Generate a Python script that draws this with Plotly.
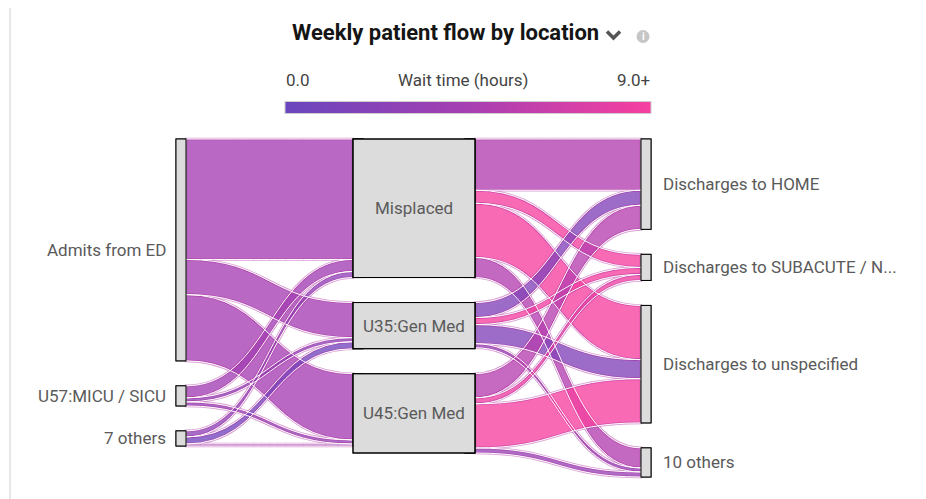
import re
import plotly.graph_objects as go
from plotly.colors import sample_colorscale

# ---------------- data ----------------
title_text = "Weekly patient flow by location"
left_nodes = ["Admits from ED", "U57:MICU / SICU", "7 others"]
mid_nodes = ["Misplaced", "U35:Gen Med", "U45:Gen Med"]
right_nodes = ["Discharges to HOME", "Discharges to SUBACUTE / N...",
               "Discharges to unspecified", "10 others"]

# inflow links: left column -> middle column
in_src = [0, 0, 0, 1, 1, 1, 2, 2, 2]
in_tgt = [0, 1, 2, 0, 1, 2, 0, 1, 2]
in_val = [120, 35, 66, 12, 4, 4, 6, 7, 2]
in_wait = [4.4, 4.4, 4.4, 4.2, 2.6, 3.2, 2.6, 0.6, 3.4]

# outflow links: middle column -> right column
out_src = [0, 0, 0, 0, 1, 1, 1, 1, 2, 2, 2, 2]
out_tgt = [0, 1, 2, 3, 0, 1, 2, 3, 0, 1, 2, 3]
out_val = [51, 13, 54, 20, 15, 7, 19, 4, 24, 6, 44, 5]
out_wait = [5.2, 9.0, 9.0, 5.2, 1.8, 9.0, 1.8, 3.0, 5.4, 8.5, 9.0, 3.4]

wait_title = "Wait time (hours)"
wait_min, wait_max = 0.0, 9.0
wait_tick_labels = ["0.0", "9.0+"]

# ---------------- layout constants (page pixels) ----------------
PAGE_OFF = 8                      # default page margin around the plot div
FIG_W, FIG_H = 926 - PAGE_OFF, 499 - PAGE_OFF
TOP, BOTTOM = 139, 477
PAD = 25
THICK = 10
BOX_W = 122
X_LEFT, X_MID, X_RIGHT = 176, 353, 641
FONT = "Roboto, 'Open Sans', sans-serif"
NODE_FILL = "#dcdcdc"
NODE_LINE = "#8a8a8a"
LABEL_COLOR = "#5a5a5a"
CS = [[0, "#6a46bd"], [0.5, "#a63fb2"], [1, "#f7409f"]]
LINK_ALPHA = 0.78
EDGE_COLOR = "rgba(170,45,160,0.45)"
EDGE_W = 2.6
GAP_COLOR = "white"
GAP_W = 1
CLEAR = "rgba(0,0,0,0)"


def px_x(x):
    return (x - PAGE_OFF) / FIG_W


def px_y(y):
    return 1 - (y - PAGE_OFF) / FIG_H


# ---------------- derived geometry (from the data) ----------------
left_tot = [sum(v for s, v in zip(in_src, in_val) if s == i) for i in range(len(left_nodes))]
mid_in = [sum(v for t, v in zip(in_tgt, in_val) if t == i) for i in range(len(mid_nodes))]
mid_out = [sum(v for s, v in zip(out_src, out_val) if s == i) for i in range(len(mid_nodes))]
mid_box = [max(a, b) for a, b in zip(mid_in, mid_out)]
right_tot = [sum(v for t, v in zip(out_tgt, out_val) if t == i) for i in range(len(right_nodes))]

avail = BOTTOM - TOP
ky = min((avail - (len(c) - 1) * PAD) / sum(c) for c in (left_tot, mid_box, right_tot))


def tops(col):
    y, res = TOP, []
    for v in col:
        res.append(y)
        y += v * ky + PAD
    return res


left_top, mid_top, right_top = tops(left_tot), tops(mid_box), tops(right_tot)


def span(cols):
    return max(sum(c) * ky + (len(c) - 1) * PAD for c in cols)


def colors(waits, alpha):
    cols = sample_colorscale(CS, [min(max(w, wait_min), wait_max) / wait_max for w in waits])
    out = []
    for c in cols:
        r, g, b = [float(v) for v in re.findall(r"[\d.]+", c)[:3]]
        out.append(f"rgba({r:.0f},{g:.0f},{b:.0f},{alpha})")
    return out


def make_sankey(x0, x1, h, labels, node_x, node_y, src, tgt, val, link_fill, link_line,
                link_w, node_fill, node_line, node_lw, thickness, hover=True):
    w = x1 - x0
    return go.Sankey(
        arrangement="fixed",
        domain=dict(x=[px_x(x0), px_x(x1)], y=[px_y(TOP + h), px_y(TOP)]),
        node=dict(
            label=[""] * len(labels),
            customdata=labels,
            hovertemplate="%{customdata}<extra></extra>" if hover else None,
            hoverinfo=None if hover else "skip",
            x=[(x - x0) / w for x in node_x],
            y=[(y - TOP) / h for y in node_y],
            pad=PAD,
            thickness=thickness,
            color=node_fill,
            line=dict(color=node_line, width=node_lw),
        ),
        link=dict(
            source=src, target=tgt, value=val,
            color=link_fill,
            line=dict(color=link_line, width=link_w),
            hoverinfo=None if hover else "skip",
        ),
        textfont=dict(color=CLEAR, size=1),
    )


nL, nM, nR = len(left_nodes), len(mid_nodes), len(right_nodes)

# trace pair 1: left -> middle (inflows)
h1 = span([left_tot, mid_in])
geo1 = dict(
    x0=X_LEFT, x1=X_MID + THICK, h=h1,
    labels=left_nodes + mid_nodes,
    node_x=[X_LEFT + THICK / 2] * nL + [X_MID + THICK / 2] * nM,
    node_y=[left_top[i] + left_tot[i] * ky / 2 for i in range(nL)]
    + [mid_top[i] + mid_in[i] * ky / 2 for i in range(nM)],
    src=in_src, tgt=[t + nL for t in in_tgt], val=in_val,
    node_fill=[NODE_FILL] * (nL + nM), node_line=[NODE_LINE] * (nL + nM), node_lw=1,
    thickness=THICK,
)
t1 = make_sankey(link_fill=colors(in_wait, LINK_ALPHA), link_line=EDGE_COLOR,
                 link_w=EDGE_W, **geo1)
t1g = make_sankey(link_fill=[CLEAR] * len(in_val), link_line=GAP_COLOR,
                  link_w=GAP_W, hover=False, **geo1)

# trace pair 2: middle -> right (outflows)
h2 = span([mid_out, right_tot])
geo2 = dict(
    x0=X_MID + BOX_W - THICK, x1=X_RIGHT + THICK, h=h2,
    labels=mid_nodes + right_nodes,
    node_x=[X_MID + BOX_W - THICK / 2] * nM + [X_RIGHT + THICK / 2] * nR,
    node_y=[mid_top[i] + mid_out[i] * ky / 2 for i in range(nM)]
    + [right_top[i] + right_tot[i] * ky / 2 for i in range(nR)],
    src=out_src, tgt=[t + nM for t in out_tgt], val=out_val,
    node_fill=[NODE_FILL] * (nM + nR), node_line=[NODE_LINE] * (nM + nR), node_lw=1,
    thickness=THICK,
)
t2 = make_sankey(link_fill=colors(out_wait, LINK_ALPHA), link_line=EDGE_COLOR,
                 link_w=EDGE_W, **geo2)
t2g = make_sankey(link_fill=[CLEAR] * len(out_val), link_line=GAP_COLOR,
                  link_w=GAP_W, hover=False, **geo2)

# trace 3: the wide middle boxes (middle nodes linked to invisible twins)
h3 = span([mid_box, mid_box])
box_y = [mid_top[i] + mid_box[i] * ky / 2 for i in range(nM)]
t3 = make_sankey(
    X_MID, X_MID + BOX_W, h3,
    mid_nodes + mid_nodes,
    [X_MID + BOX_W / 2] * (2 * nM),
    box_y + box_y,
    list(range(nM)), [i + nM for i in range(nM)], mid_box,
    [CLEAR] * nM, CLEAR, 0,
    [NODE_FILL] * nM + [CLEAR] * nM,
    [NODE_LINE] * nM + [CLEAR] * nM,
    [1] * nM + [0] * nM, BOX_W, hover=False,
)

# colour scale carrier (for the colour bar only)
cbar = go.Scatter(
    x=[None], y=[None], mode="markers", hoverinfo="skip", showlegend=False,
    marker=dict(
        color=[wait_min], cmin=wait_min, cmax=wait_max, colorscale=CS, showscale=True,
        colorbar=dict(
            orientation="h", x=px_x(468), xanchor="center", y=px_y(108), yanchor="middle",
            lenmode="pixels", len=366, thickness=12, thicknessmode="pixels",
            showticklabels=False, ticks="", outlinewidth=1, outlinecolor="#cfcfcf",
            xpad=0, ypad=0,
        ),
    ),
)

fig = go.Figure([cbar, t1, t1g, t2, t2g, t3])


def label(x, y, text, xanchor, size=17, color=LABEL_COLOR):
    return dict(x=px_x(x), y=px_y(y), xref="paper", yref="paper", text=text,
                xanchor=xanchor, yanchor="middle", showarrow=False,
                font=dict(family=FONT, size=size, color=color))


ann = []
for i, name in enumerate(left_nodes):
    ann.append(label(X_LEFT - 8, left_top[i] + left_tot[i] * ky / 2, name, "right"))
for i, name in enumerate(mid_nodes):
    ann.append(label(X_MID + BOX_W / 2, box_y[i], name, "center"))
for i, name in enumerate(right_nodes):
    ann.append(label(X_RIGHT + THICK + 10, right_top[i] + right_tot[i] * ky / 2, name, "left"))
# colour bar texts
ann.append(label(284, 80, wait_tick_labels[0], "left", color="#444"))
ann.append(label(652, 80, wait_tick_labels[1], "right", color="#444"))
ann.append(label(463, 80, wait_title, "center", color="#444"))
# title + info "i"
ann.append(label(445, 32, f"<b>{title_text}</b>", "center", size=22, color="#151515"))
ann.append(label(643, 36.5, "<b>i</b>", "center", size=10, color="white"))

shapes = [
    # card frame
    dict(type="rect", xref="paper", yref="paper", x0=px_x(10), x1=px_x(921),
         y0=-0.05, y1=px_y(6), line=dict(color="#e0e0e0", width=1.5), layer="below"),
    # chevron
    dict(type="path", xref="paper", yref="paper",
         path=f"M {px_x(607)},{px_y(31.5)} L {px_x(613.5)},{px_y(38)} L {px_x(620)},{px_y(31.5)}",
         line=dict(color="#555", width=3.5)),
    # info circle
    dict(type="circle", xref="paper", yref="paper", x0=px_x(636.5), x1=px_x(649.5),
         y0=px_y(43), y1=px_y(30), fillcolor="#c6c6c6", line=dict(width=0)),
]

fig.update_layout(
    width=FIG_W, height=FIG_H,
    margin=dict(l=0, r=0, t=0, b=0, autoexpand=False),
    paper_bgcolor="white", plot_bgcolor="white",
    xaxis=dict(visible=False), yaxis=dict(visible=False),
    showlegend=False,
    annotations=ann, shapes=shapes,
    font=dict(family=FONT),
)

fig.write_html("out.html")
